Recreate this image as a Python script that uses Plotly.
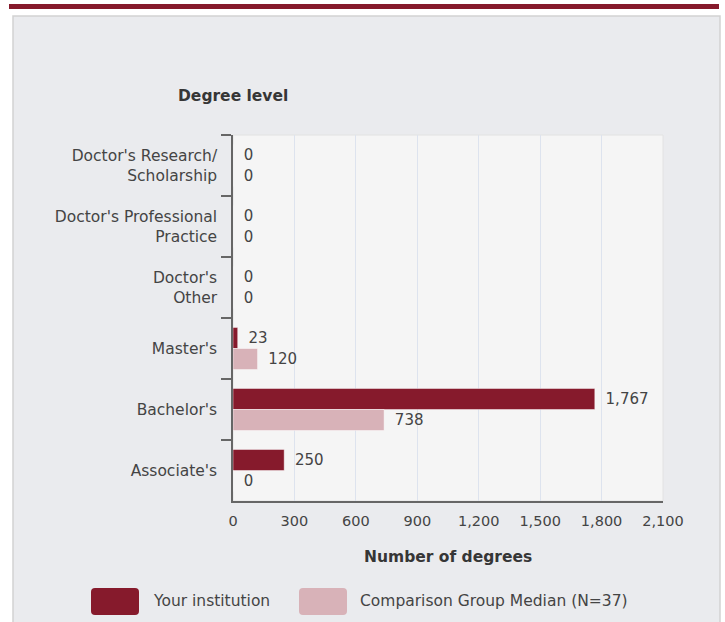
import plotly.graph_objects as go

categories = ["Doctor's Research/<br>Scholarship", "Doctor's Professional<br>Practice",
              "Doctor's<br>Other", "Master's", "Bachelor's", "Associate's"]
your_institution = [0, 0, 0, 23, 1767, 250]
comparison_median = [0, 0, 0, 120, 738, 0]
series_names = ["Your institution", "Comparison Group Median (N=37)"]
x_ticks = [0, 300, 600, 900, 1200, 1500, 1800, 2100]

DARK = "#861A2C"
LIGHT = "#D8B2B8"
FONT = "DejaVu Sans, Verdana, sans-serif"
TXT = "#444444"
PAD = "\u00a0\u2009"

W, H = 725, 622
L, R, T, B = 233, 62, 135, 121
PW, PH = W - L - R, H - T - B

def px(x):
    return (x - L) / PW

def py(y):
    return (H - B - y) / PH

fig = go.Figure()
for vals, col, name in [(your_institution, DARK, series_names[0]),
                        (comparison_median, LIGHT, series_names[1])]:
    fig.add_trace(go.Bar(
        y=categories, x=vals, orientation="h", name=name,
        marker=dict(color=col, line=dict(color="rgba(255,255,255,0.45)", width=1)),
        text=[PAD + f"{v:,}" for v in vals], textposition="outside",
        textfont=dict(family=FONT, size=15, color=TXT),
        cliponaxis=False, showlegend=False, hoverinfo="skip",
    ))

shapes = [
    dict(type="rect", xref="paper", yref="paper", x0=px(9), x1=px(719), y0=py(9), y1=py(4),
         fillcolor=DARK, line=dict(width=0), layer="below"),
    dict(type="rect", xref="paper", yref="paper", x0=px(13), x1=px(720), y0=py(660), y1=py(16),
         fillcolor="#EAEBEE", line=dict(color="#D2D2D2", width=1.5), layer="below"),
    dict(type="rect", xref="paper", yref="paper", x0=0, x1=1, y0=0, y1=1,
         fillcolor="#F5F5F5", line=dict(color="#E2E2E2", width=1), layer="below"),
]

def rounded(x0, y0, x1, y1, r=4):
    X = px
    Y = py
    return (f"M {X(x0+r)},{Y(y0)} L {X(x1-r)},{Y(y0)} Q {X(x1)},{Y(y0)} {X(x1)},{Y(y0+r)} "
            f"L {X(x1)},{Y(y1-r)} Q {X(x1)},{Y(y1)} {X(x1-r)},{Y(y1)} "
            f"L {X(x0+r)},{Y(y1)} Q {X(x0)},{Y(y1)} {X(x0)},{Y(y1-r)} "
            f"L {X(x0)},{Y(y0+r)} Q {X(x0)},{Y(y0)} {X(x0+r)},{Y(y0)} Z")

legend_items = [(91, 139, 151, DARK, series_names[0]), (299, 347, 358, LIGHT, series_names[1])]
annotations = []
for sx0, sx1, tx, col, name in legend_items:
    shapes.append(dict(type="path", xref="paper", yref="paper", path=rounded(sx0, 588, sx1, 615),
                       fillcolor=col, line=dict(width=0)))
    annotations.append(dict(xref="paper", yref="paper", x=px(tx), y=py(601), text=name,
                            showarrow=False, xanchor="left", yanchor="middle",
                            font=dict(family=FONT, size=15.5, color=TXT)))

annotations.append(dict(xref="paper", yref="paper", x=px(233), y=py(96), text="Degree level",
                        showarrow=False, xanchor="center", yanchor="middle",
                        font=dict(family=FONT, size=15.5, color="#363636", weight="bold")))
annotations.append(dict(xref="paper", yref="paper", x=px(448), y=py(557), text="Number of degrees",
                        showarrow=False, xanchor="center", yanchor="middle",
                        font=dict(family=FONT, size=15.5, color="#363636", weight="bold")))

fig.update_layout(
    width=W, height=H, margin=dict(l=L, r=R, t=T, b=B),
    paper_bgcolor="white", plot_bgcolor="rgba(0,0,0,0)",
    barmode="group", bargap=0.31, bargroupgap=0,
    shapes=shapes, annotations=annotations,
    xaxis=dict(range=[0, 2100], tickvals=x_ticks, ticktext=[f"{v:,}" for v in x_ticks],
               showgrid=True, gridcolor="#DDE3EE", gridwidth=1, zeroline=False,
               showline=True, linecolor="#666", linewidth=1.5, ticks="",
               ticklabelstandoff=6,
               tickfont=dict(family=FONT, size=14.5, color=TXT), fixedrange=True),
    yaxis=dict(autorange="reversed", showline=True, linecolor="#666", linewidth=1.5,
               ticks="outside", tickson="boundaries", ticklen=10, tickcolor="#666", tickwidth=1.5,
               showgrid=False, ticklabelstandoff=11,
               tickfont=dict(family=FONT, size=15.5, color=TXT), fixedrange=True),
)

fig.write_html("out.html", config={"displayModeBar": False},
               post_script="document.body.style.margin='0';")
